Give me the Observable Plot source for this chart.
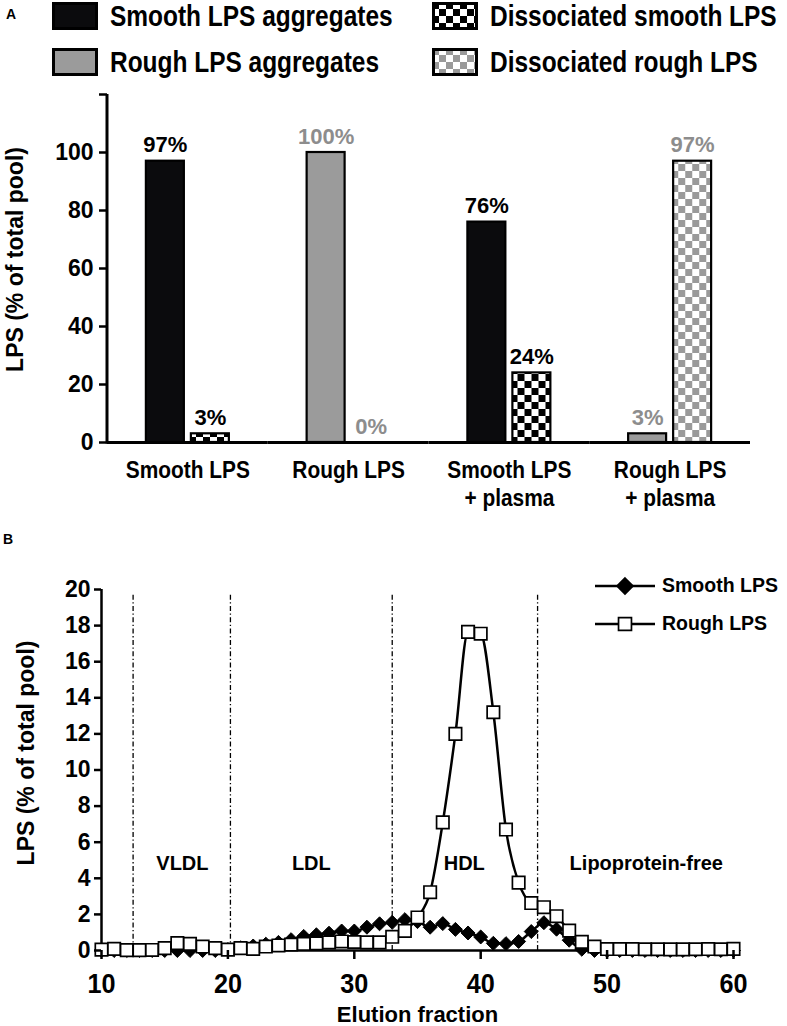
<!DOCTYPE html>
<html><head><meta charset="utf-8">
<script src="https://cdn.jsdelivr.net/npm/d3@7"></script>
<script src="https://cdn.jsdelivr.net/npm/@observablehq/plot@0.6"></script>
<style>
body{margin:0;background:#fff;font-family:"Liberation Sans",Arial,sans-serif;}
#root{position:relative;width:787px;height:1026px;overflow:hidden;background:#fff;}
.tag{position:absolute;font-weight:bold;font-size:14px;}
.leg{position:absolute;display:flex;align-items:center;white-space:nowrap;font-weight:bold;color:#000;}
</style></head><body>
<svg width="0" height="0" style="position:absolute">
<defs>
<pattern id="chkBlack" patternUnits="userSpaceOnUse" width="14" height="14">
<rect width="14" height="14" fill="#fff"/><rect width="7" height="7" fill="#000"/><rect x="7" y="7" width="7" height="7" fill="#000"/>
</pattern>
<pattern id="chkGray" patternUnits="userSpaceOnUse" width="14" height="14">
<rect width="14" height="14" fill="#fff"/><rect width="7" height="7" fill="#9a9a9a"/><rect x="7" y="7" width="7" height="7" fill="#9a9a9a"/>
</pattern>
</defs></svg>
<div id="root"></div>
<script>
// ---------- Panel A data ----------
const categories = ["Smooth LPS", "Rough LPS", "Smooth LPS\n+ plasma", "Rough LPS\n+ plasma"];
const lpsType = ["smooth", "rough", "smooth", "rough"];
const aggregates = [97, 100, 76, 3];
const dissociated = [3, 0, 24, 97];
const kinds = ["Aggregates", "Dissociated"];
const legendA = ["Smooth LPS aggregates", "Rough LPS aggregates", "Dissociated smooth LPS", "Dissociated rough LPS"];
const yTicksA = [0, 20, 40, 60, 80, 100, 120];
const yLabel = "LPS (% of total pool)";

// ---------- Panel B data ----------
const fractions = [10,11,12,13,14,15,16,17,18,19,20,21,22,23,24,25,26,27,28,29,30,31,32,33,34,35,36,37,38,39,40,41,42,43,44,45,46,47,48,49,50,51,52,53,54,55,56,57,58,59,60];
const smoothLPS = [0,0,0,0,0,0,0,0,0,0,0.05,0.15,0.25,0.35,0.45,0.6,0.78,0.87,0.96,1.08,1.08,1.29,1.48,1.56,1.71,1.6,1.29,1.49,1.17,0.97,0.75,0.4,0.38,0.5,1.05,1.54,1.18,0.57,0.07,0,0,0,0,0,0,0,0,0,0,0,0];
const roughLPS = [0.05,0.09,0.02,0.02,0.03,0.13,0.41,0.37,0.22,0.13,0.05,0.13,0.09,0.22,0.28,0.33,0.37,0.4,0.45,0.5,0.47,0.45,0.45,0.76,1.09,1.83,3.23,7.1,12.0,17.65,17.55,13.2,6.7,3.76,2.63,2.4,1.9,1.1,0.48,0.22,0.08,0.08,0.08,0.07,0.07,0.06,0.06,0.07,0.08,0.07,0.09];
const seriesB = ["Smooth LPS", "Rough LPS"];
const boundaries = [12.5, 20.2, 33, 44.5];
const boundaryTop = 19.8;
const regionNames = ["VLDL", "LDL", "HDL", "Lipoprotein-free"];
const regionX = [16.4, 26.6, 38.7, 53.1];
const regionY = [4.8, 4.8, 4.8, 4.8];
const xTicksB = [10, 20, 30, 40, 50, 60];
const yTicksB = [0, 2, 4, 6, 8, 10, 12, 14, 16, 18, 20];
const xLabelB = "Elution fraction";

// ---------- fonts ----------
const fam = '"Liberation Sans", Arial, sans-serif';
const famCss = fam.replace(/"/g, "'");

// squeeze SVG text horizontally (condensed look of the reference)
function squeeze(svg, selector, k) {
  svg.querySelectorAll(selector).forEach(t => {
    const tspans = t.querySelectorAll("tspan");
    const els = tspans.length ? Array.from(tspans) : [t];
    els.forEach(e => {
      const len = e.getComputedTextLength();
      if (len > 0) {
        e.setAttribute("textLength", len * k);
        e.setAttribute("lengthAdjust", "spacingAndGlyphs");
      }
    });
  });
}

const root = document.getElementById("root");

// ---------- styles per series ----------
const fillA = d => d.kind === "Aggregates"
  ? (d.lps === "smooth" ? "#0b0b0d" : "#9b9b9b")
  : (d.lps === "smooth" ? "url(#chkBlack)" : "url(#chkGray)");
const legendFills = ["#0b0b0d", "#9b9b9b", "url(#chkBlack)", "url(#chkGray)"];

function addTag(t, left, top) {
  const d = document.createElement("div");
  d.className = "tag"; d.textContent = t;
  d.style.left = left + "px"; d.style.top = top + "px";
  root.appendChild(d);
}
addTag("A", 6, 6);
addTag("B", 3, 531);

// ---------- Panel A legend ----------
legendA.forEach((label, i) => {
  const col = i < 2 ? 0 : 1, row = i % 2;
  const d = document.createElement("div");
  d.className = "leg";
  d.style.left = (col ? 432 : 52) + "px";
  d.style.top = (row ? 48 : 2) + "px";
  d.style.height = "28px";
  d.innerHTML = `<svg width="46" height="28" style="display:block"><rect x="1.5" y="1.5" width="43" height="25" fill="${legendFills[i]}" stroke="#000" stroke-width="3"/></svg>` +
    `<span style="margin-left:12px;display:inline-block;transform:scaleX(0.815);transform-origin:0 50%;font-family:${famCss};font-size:30px;line-height:1">${label}</span>`;
  root.appendChild(d);
});

// ---------- Panel A chart ----------
const rows = [];
categories.forEach((c, i) => {
  rows.push({group: c, kind: kinds[0], value: aggregates[i], lps: lpsType[i]});
  rows.push({group: c, kind: kinds[1], value: dissociated[i], lps: lpsType[i]});
});
const mA = {top: 14, bottom: 78, left: 107, right: 37};
const catSize = 24;
const chartA = Plot.plot({
  width: 787, height: 440,
  marginTop: mA.top, marginBottom: mA.bottom, marginLeft: mA.left, marginRight: mA.right,
  style: {fontFamily: fam, fontWeight: "bold", background: "transparent", overflow: "visible", color: "#000"},
  fx: {domain: categories, padding: 0, round: false, label: null},
  x: {domain: kinds, paddingInner: 0.156, paddingOuter: 0.864, axis: null, round: false},
  y: {domain: [0, 120]},
  color: {type: "identity"},
  marks: [
    Plot.barY(rows, {fx: "group", x: "kind", y: "value", fill: fillA, stroke: "#000", strokeWidth: 2.2}),
    Plot.text(rows, {fx: "group", x: "kind", y: "value", text: d => d.value + "%",
      fill: d => d.lps === "smooth" ? "#000" : "#8d8d8d", dy: -16, fontSize: 22, fontWeight: "bold"}),
    Plot.ruleY([0], {stroke: "#000", strokeWidth: 3}),
    Plot.axisY({ticks: yTicksA, tickFormat: d => d === 120 ? "" : d, tickSize: 8, tickPadding: 6,
      fontSize: 23, fontWeight: "bold", strokeWidth: 2.5, label: null}),
    Plot.axisFx({anchor: "bottom", tickSize: 0, tickPadding: 16, fontSize: catSize,
      fontWeight: "bold", lineHeight: 28 / catSize, label: null}),
    Plot.text([{g: categories[0], t: yLabel}], {fx: "g", text: "t", frameAnchor: "left", rotate: -90,
      textAnchor: "middle", lineAnchor: "middle", dx: -92, dy: -9, fontSize: 23, fontWeight: "bold"})
  ]
});
// y axis line along the frame's left edge, from the y scale's range
{
  const r = chartA.scale("y").range;
  d3.select(chartA).append("line")
    .attr("x1", mA.left).attr("x2", mA.left)
    .attr("y1", r[0] + 1.5).attr("y2", r[1])
    .attr("stroke", "#000").attr("stroke-width", 3);
}
chartA.style.position = "absolute"; chartA.style.left = "0px"; chartA.style.top = "80px";
root.appendChild(chartA);
squeeze(chartA, 'g[aria-label="fx-axis tick label"] text', 0.87);

// ---------- Panel B chart ----------
const dataB = [];
fractions.forEach((f, i) => dataB.push({series: seriesB[0], x: f, y: smoothLPS[i]}));
fractions.forEach((f, i) => dataB.push({series: seriesB[1], x: f, y: roughLPS[i]}));
const smoothRows = dataB.filter(d => d.series === seriesB[0]);
const roughRows = dataB.filter(d => d.series === seriesB[1]);
const regions = regionNames.map((n, i) => ({name: n, x: regionX[i], y: regionY[i]}));

const chartB = Plot.plot({
  width: 787, height: 466,
  marginTop: 29, marginBottom: 76, marginLeft: 101, marginRight: 54,
  style: {fontFamily: fam, fontWeight: "bold", background: "transparent", overflow: "visible", color: "#000"},
  x: {domain: [10, 60]},
  y: {domain: [0, 20]},
  marks: [
    Plot.ruleX(boundaries, {y1: 0, y2: boundaryTop, stroke: "#000", strokeWidth: 1.3, strokeDasharray: "5,2.5,1.3,2.5"}),
    Plot.text(regions, {x: "x", y: "y", text: "name", fontSize: 20, fontWeight: "bold"}),
    Plot.ruleY([0], {stroke: "#000", strokeWidth: 2.5}),
    Plot.ruleX([10], {stroke: "#000", strokeWidth: 2.5}),
    Plot.line(smoothRows, {x: "x", y: "y", curve: "monotone-x", stroke: "#000", strokeWidth: 2.5}),
    Plot.dot(smoothRows, {x: "x", y: "y", symbol: "diamond2", r: 6.3, fill: "#000", stroke: "#000", strokeWidth: 1}),
    Plot.line(roughRows, {x: "x", y: "y", curve: "monotone-x", stroke: "#000", strokeWidth: 2.5}),
    Plot.dot(roughRows, {x: "x", y: "y", symbol: "square", r: 7, fill: "#fff", stroke: "#000", strokeWidth: 1.7}),
    Plot.axisX({ticks: xTicksB, tickSize: 9, tickPadding: 14, fontSize: 28, fontWeight: "bold", strokeWidth: 2.5, label: null}),
    Plot.axisY({ticks: yTicksB, tickSize: 7, tickPadding: 4, fontSize: 23, fontWeight: "bold", strokeWidth: 2.5, label: null}),
    Plot.text([xLabelB], {frameAnchor: "bottom", lineAnchor: "middle", dy: 64, fontSize: 22, fontWeight: "bold"}),
    Plot.text([yLabel], {frameAnchor: "left", rotate: -90, textAnchor: "middle", lineAnchor: "middle",
      dx: -75, dy: -17, fontSize: 23, fontWeight: "bold"})
  ]
});
chartB.style.position = "absolute"; chartB.style.left = "0px"; chartB.style.top = "560px";
root.appendChild(chartB);
squeeze(chartB, 'g[aria-label="x-axis tick label"] text', 0.9);

// ---------- Panel B legend ----------
const legendBStyle = [
  {symbol: d3.symbolDiamond2, r: 7.2, fill: "#000"},
  {symbol: d3.symbolSquare, r: 7.3, fill: "#fff"}
];
seriesB.forEach((label, i) => {
  const s = legendBStyle[i];
  const path = d3.symbol(s.symbol, Math.PI * s.r * s.r)();
  const d = document.createElement("div");
  d.className = "leg";
  d.style.left = "595px";
  d.style.top = (i ? 611 : 573) + "px";
  d.style.height = "26px";
  d.innerHTML = `<svg width="60" height="26" style="display:block;overflow:visible"><line x1="0" x2="60" y1="13" y2="13" stroke="#000" stroke-width="2.5"/><path d="${path}" transform="translate(30,13)" fill="${s.fill}" stroke="#000" stroke-width="1.7"/></svg>` +
    `<span style="margin-left:7px;font-family:${famCss};font-size:19.5px;line-height:1">${label}</span>`;
  root.appendChild(d);
});
</script>
</body></html>
